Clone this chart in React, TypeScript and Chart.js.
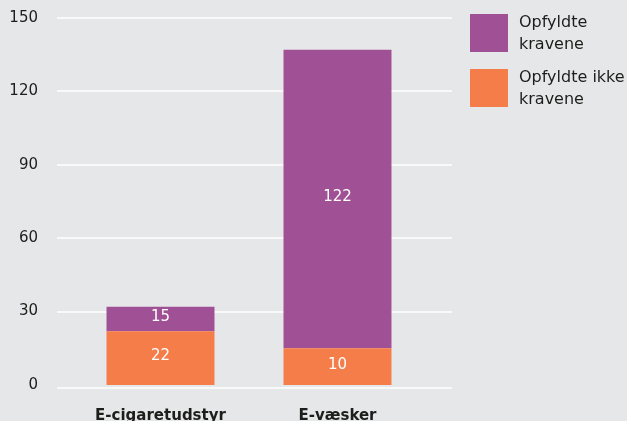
import React, { useEffect, useRef } from "react";
import { Chart, registerables } from "chart.js";

Chart.register(...registerables);

const categories = ["E-cigaretudstyr", "E-væsker"];
const notMetValues = [22, 15];
const metValues = [10, 122];
const notMetLabels = ["22", "10"];
const metLabels = ["15", "122"];
const legendMet = ["Opfyldte", "kravene"];
const legendNotMet = ["Opfyldte ikke", "kravene"];
const yTicks = [0, 30, 60, 90, 120, 150];

const PURPLE = "#a05094";
const ORANGE = "#f47d4a";
const BG = "#e6e7e8";
const TEXT = "#1d1d1b";
const FONT = "'DejaVu Sans', sans-serif";

const gridPlugin = {
  id: "extGrid",
  beforeDatasetsDraw(chart: any) {
    const { ctx, chartArea, scales } = chart;
    const y = scales.y;
    ctx.save();
    ctx.strokeStyle = "#ffffff";
    ctx.lineWidth = 1.5;
    yTicks.forEach((v) => {
      const py = Math.round(y.getPixelForValue(v)) + (v === 0 ? 3 : 0);
      ctx.beginPath();
      ctx.moveTo(chartArea.left - 15, py);
      ctx.lineTo(chartArea.right + 26, py);
      ctx.stroke();
    });
    ctx.restore();
  },
};

const labelPlugin = {
  id: "segLabels",
  afterDatasetsDraw(chart: any) {
    const { ctx } = chart;
    const sets = [notMetLabels, metLabels];
    ctx.save();
    ctx.fillStyle = "#ffffff";
    ctx.font = `15px ${FONT}`;
    ctx.textAlign = "center";
    ctx.textBaseline = "middle";
    chart.data.datasets.forEach((_: any, di: number) => {
      const meta = chart.getDatasetMeta(di);
      meta.data.forEach((bar: any, i: number) => {
        const cy = (bar.y + bar.base) / 2 - 2;
        ctx.fillText(sets[di][i], bar.x, cy);
      });
    });
    ctx.restore();
  },
};

const legendPlugin = {
  id: "sideLegend",
  afterDraw(chart: any) {
    const { ctx, chartArea } = chart;
    const items = [
      { color: PURPLE, lines: legendMet },
      { color: ORANGE, lines: legendNotMet },
    ];
    const bx = chartArea.right + 44;
    ctx.save();
    items.forEach((it, k) => {
      const top = 14 + k * 55;
      ctx.fillStyle = it.color;
      ctx.fillRect(bx, top, 38, 38);
      ctx.fillStyle = TEXT;
      ctx.font = `16px ${FONT}`;
      ctx.textAlign = "left";
      ctx.textBaseline = "middle";
      it.lines.forEach((ln, j) => {
        ctx.fillText(ln, bx + 49, top + 9 + j * 22);
      });
    });
    ctx.restore();
  },
};

export default function App() {
  const ref = useRef<HTMLCanvasElement>(null);
  useEffect(() => {
    if (!ref.current) return;
    const chart = new Chart(ref.current, {
      type: "bar",
      data: {
        labels: categories,
        datasets: [
          {
            label: legendNotMet.join(" "),
            data: notMetValues,
            backgroundColor: ORANGE,
            barPercentage: 0.61,
            categoryPercentage: 1,
          },
          {
            label: legendMet.join(" "),
            data: metValues,
            backgroundColor: PURPLE,
            barPercentage: 0.61,
            categoryPercentage: 1,
          },
        ],
      },
      options: {
        animation: false,
        responsive: false,
        maintainAspectRatio: false,
        layout: { padding: { top: 18, right: 201, left: 0, bottom: 0 } },
        plugins: { legend: { display: false }, tooltip: { enabled: false } },
        scales: {
          x: {
            stacked: true,
            grid: { display: false, drawTicks: false },
            border: { display: false },
            ticks: {
              color: TEXT,
              font: { family: FONT, size: 15, weight: "bold" },
              padding: 22,
              maxRotation: 0,
            },
            afterFit(s: any) {
              s.height = 36;
              s.paddingLeft = 0;
              s.paddingRight = 0;
            },
          },
          y: {
            stacked: true,
            min: 0,
            max: 150,
            grid: { display: false, drawTicks: false },
            border: { display: false },
            ticks: {
              stepSize: 30,
              color: TEXT,
              font: { family: FONT, size: 15 },
              padding: 34,
            },
            afterFit(s: any) {
              s.width = 72;
              s.paddingTop = 0;
              s.paddingBottom = 0;
            },
          },
        },
      },
      plugins: [gridPlugin, labelPlugin, legendPlugin],
    });
    return () => chart.destroy();
  }, []);
  return (
    <div
      style={{
        position: "fixed",
        left: 0,
        top: 0,
        width: 627,
        height: 421,
        background: BG,
        overflow: "hidden",
      }}
    >
      <canvas ref={ref} width={627} height={421} style={{ display: "block" }} />
    </div>
  );
}
